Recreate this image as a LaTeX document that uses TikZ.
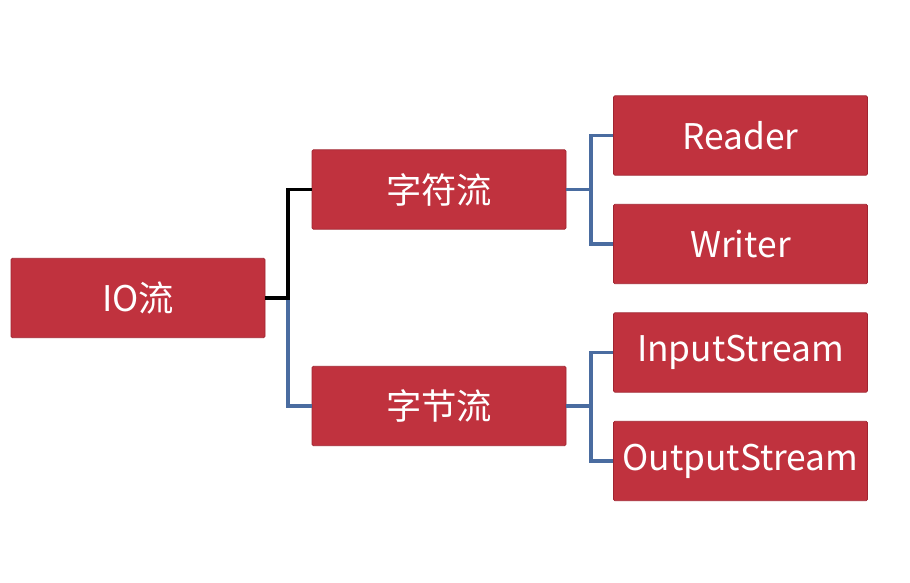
\documentclass[tikz,border=0pt]{standalone}
\usepackage{fontspec}
\setmainfont{Noto Sans CJK SC}
\definecolor{boxred}{RGB}{192,50,62}
\definecolor{boxedge}{RGB}{160,36,48}
\definecolor{lineblue}{RGB}{74,108,160}
\tikzset{
	ionode/.style={draw=boxedge,line width=0.6pt,fill=boxred,rounded corners=1pt,
		minimum width=190.5pt,minimum height=59.5pt,inner sep=0pt,
		text=white,font=\fontsize{26.5}{30}\selectfont},
	bluelink/.style={draw=lineblue,line width=2.6pt},
	blacklink/.style={draw=black,line width=2.6pt}
}
\begin{document}
\begin{tikzpicture}[x=0.75pt,y=-0.75pt]
		\useasboundingbox (0,0) rectangle (910,582);
		
		\node[ionode](io) at (138,298){IO流};
		\node[ionode](zf) at (439,189.5){字符流};
		\node[ionode](zj) at (439,406){字节流};
		
		\node[ionode](reader) at (740.5,135.5){Reader};
		\node[ionode](writer) at (740.5,244){Writer};
		\node[ionode](instream) at (740.5,352.5){InputStream};
		\node[ionode](outstream) at (740.5,461){OutputStream};
		
		\coordinate (j1) at (288,298);
		\coordinate (j2) at (591,189.5);
		\coordinate (j3) at (591,406);
		
		\draw[bluelink](j1)|-(zj.west);
		\draw[blacklink](io.east)--(j1)|-(zf.west);
		
		\draw[bluelink](zf.east)--(j2)|-(reader.west);
		\draw[bluelink](j2)|-(writer.west);
		\draw[bluelink](zj.east)--(j3)|-(instream.west);
		\draw[bluelink](j3)|-(outstream.west);
		\end{tikzpicture}
\end{document}
